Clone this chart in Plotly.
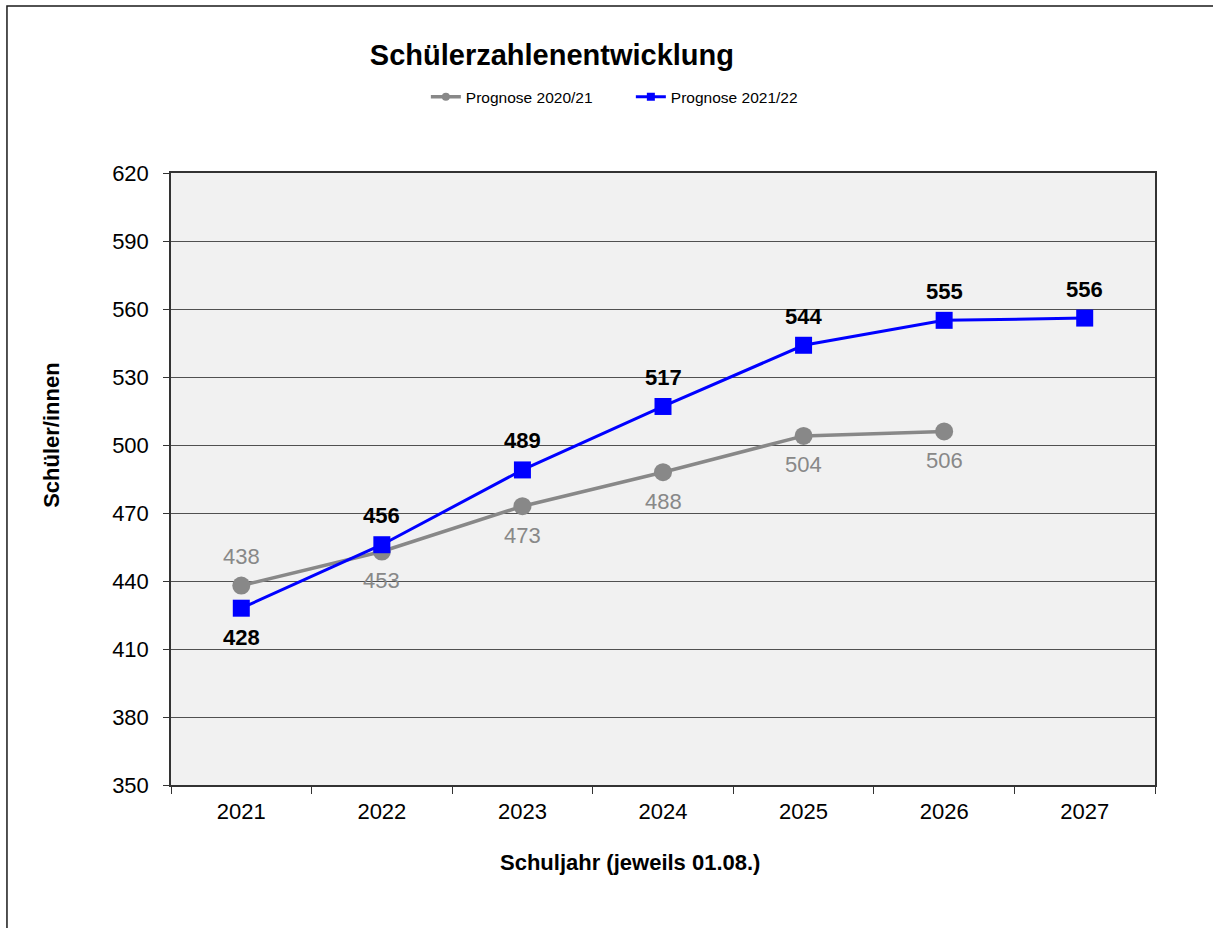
import plotly.graph_objects as go

years = ["2021", "2022", "2023", "2024", "2025", "2026", "2027"]
prog_2020 = [438, 453, 473, 488, 504, 506]
prog_2021 = [428, 456, 489, 517, 544, 555, 556]
name_2020 = "Prognose 2020/21"
name_2021 = "Prognose 2021/22"
# label placement: +1 above, -1 below
pos_2020 = [1, -1, -1, -1, -1, -1]
pos_2021 = [-1, 1, 1, 1, 1, 1, 1]

FONT = "Arial, Liberation Sans, sans-serif"
GRAY = "#888888"
BLUE = "#0000ff"

fig = go.Figure()
fig.add_trace(go.Scatter(x=years[:len(prog_2020)], y=prog_2020, mode="lines+markers",
                         line=dict(color=GRAY, width=3.5),
                         marker=dict(symbol="circle", size=18, color=GRAY),
                         showlegend=False, cliponaxis=False))
fig.add_trace(go.Scatter(x=years, y=prog_2021, mode="lines+markers",
                         line=dict(color=BLUE, width=3),
                         marker=dict(symbol="square", size=17, color=BLUE),
                         showlegend=False, cliponaxis=False))
# legend entries
fig.add_trace(go.Scatter(x=[None], y=[None], mode="lines+markers", name=name_2020,
                         line=dict(color=GRAY, width=3.5), marker=dict(symbol="circle", size=8, color=GRAY)))
fig.add_trace(go.Scatter(x=[None], y=[None], mode="lines+markers", name=name_2021,
                         line=dict(color=BLUE, width=3), marker=dict(symbol="square", size=8, color=BLUE)))

annotations = []
for i, (v, p) in enumerate(zip(prog_2020, pos_2020)):
    annotations.append(dict(x=i, y=v, xref="x", yref="y", text=str(v), showarrow=False,
                            yshift=29 * p, font=dict(family=FONT, size=22, color=GRAY)))
for i, (v, p) in enumerate(zip(prog_2021, pos_2021)):
    annotations.append(dict(x=i, y=v, xref="x", yref="y", text="<b>%d</b>" % v, showarrow=False,
                            yshift=29 * p, font=dict(family=FONT, size=22, color="black")))
annotations.append(dict(x=-0.121, y=0.572, xref="paper", yref="paper", text="<b>Schüler/innen</b>",
                        textangle=-90, showarrow=False, xanchor="center", yanchor="middle",
                        font=dict(family=FONT, size=22, color="black")))
annotations.append(dict(x=0.466, y=-0.126, xref="paper", yref="paper",
                        text="<b>Schuljahr (jeweils 01.08.)</b>", showarrow=False,
                        xanchor="center", yanchor="middle",
                        font=dict(family=FONT, size=22, color="black")))

fig.update_layout(
    width=1213, height=928,
    margin=dict(l=171, r=58, t=173, b=143),
    paper_bgcolor="white", plot_bgcolor="#f1f1f1",
    font=dict(family=FONT, size=22, color="black"),
    title=dict(text="<b>Schülerzahlenentwicklung</b>", x=0.455, xanchor="center",
               y=1 - 55 / 928, yanchor="middle", yref="container",
               font=dict(family=FONT, size=29, color="black")),
    legend=dict(orientation="h", x=0.259, y=1.124, xanchor="left", yanchor="middle",
                font=dict(family=FONT, size=15.5, color="black"), bgcolor="rgba(0,0,0,0)",
                itemwidth=30, tracegroupgap=0, entrywidth=160, entrywidthmode="pixels"),
    annotations=annotations,
    shapes=[dict(type="rect", xref="paper", yref="paper", x0=-0.1667, x1=1.08, y0=-0.26, y1=1.2729,
                 line=dict(color="#1a1a1a", width=1.5), fillcolor="rgba(0,0,0,0)", layer="below")],
)
fig.update_xaxes(type="category", categoryorder="array", categoryarray=years, range=[-0.5, 6.5],
                 showgrid=False, showline=True, linecolor="#333333", linewidth=1.5, mirror=True,
                 ticks="outside", tickson="boundaries", ticklen=7, tickcolor="#333333",
                 ticklabelstandoff=6, tickfont=dict(family=FONT, size=22, color="black"))
fig.update_yaxes(range=[350, 620], dtick=30, tick0=350, showgrid=True, gridcolor="#505050", gridwidth=1,
                 showline=True, linecolor="#333333", linewidth=1.5, mirror=True,
                 ticks="outside", ticklen=6, tickcolor="#333333", zeroline=False,
                 ticklabelstandoff=10, tickfont=dict(family=FONT, size=22, color="black"))

fig.write_html("out.html", config={"displayModeBar": False},
               post_script="document.body.style.margin='0';")
